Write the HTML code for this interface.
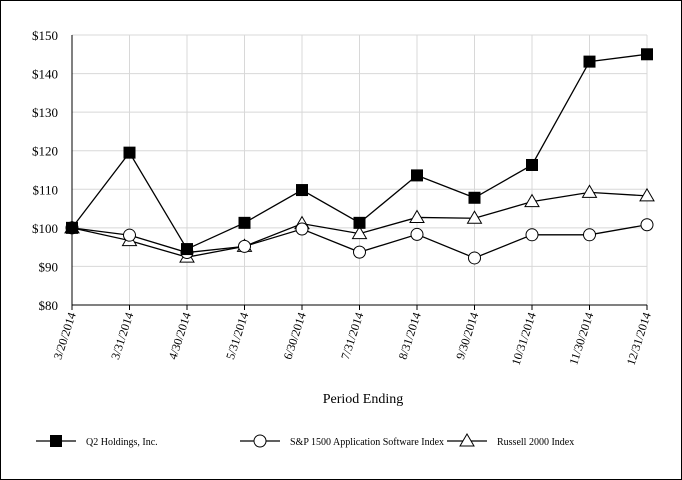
<!DOCTYPE html>
<html><head><meta charset="utf-8"><style>
html,body{margin:0;padding:0;background:#fff}
svg{display:block;font-family:"Liberation Serif",serif}
</style></head><body>
<svg id="c" width="682" height="480">
<rect x="0.5" y="0.5" width="681" height="479" fill="#fff" stroke="#000"/>
<g id="g"></g>
</svg>
<script>
const categories=["3/20/2014","3/31/2014","4/30/2014","5/31/2014","6/30/2014","7/31/2014","8/31/2014","9/30/2014","10/31/2014","11/30/2014","12/31/2014"];
const q2Values=[100,119.5,94.5,101.3,109.8,101.3,113.6,107.8,116.3,143.1,145.0];
const spValues=[100,98.1,93.6,95.2,99.7,93.7,98.3,92.2,98.2,98.2,100.8];
const russellValues=[100,96.7,92.4,95.2,101.1,98.5,102.7,102.5,106.8,109.2,108.3];
const yTicks=[80,90,100,110,120,130,140,150];
const seriesNames=["Q2 Holdings, Inc.","S&P 1500 Application Software Index","Russell 2000 Index"];

const NS="http://www.w3.org/2000/svg",g=document.getElementById('g');
const L=72,R=647,T=35,B=305;
const x=i=>L+i*(R-L)/(categories.length-1);
const y=v=>B-(v-80)*(B-T)/70;
function el(t,a,p){const e=document.createElementNS(NS,t);for(const k in a)e.setAttribute(k,a[k]);(p||g).appendChild(e);return e;}
yTicks.forEach(v=>{
 const l=el('line',{x1:L,x2:R,y1:y(v),y2:y(v),stroke:'#d8d8d8'});
 
 
 const t=el('text',{x:58,y:y(v)+5,'text-anchor':'end','font-size':13});
 t.textContent='$'+v;
 
 
});
categories.forEach((c,i)=>{
 const l=el('line',{x1:x(i),x2:x(i),y1:T,y2:B,stroke:'#d8d8d8'});
 
 
 const tk=el('line',{x1:x(i),x2:x(i),y1:B,y2:B+5,stroke:'#000'});
 
 
 const t=el('text',{x:x(i)+4,y:B+9,'text-anchor':'end','font-size':12,transform:`rotate(-72 ${x(i)+4} ${B+9})`});
 t.textContent=c;
 
 
});
const ax=el('path',{d:`M${L} ${T}V${B}H${R}`,fill:'none',stroke:'#000'});


const xt=el('text',{x:363,y:403,'text-anchor':'middle','font-size':14});
xt.textContent='Period Ending';



function marker(type,cx,cy,p){
 let m;
 if(type==0)m=el('rect',{x:cx-6,y:cy-6,width:12,height:12,fill:'#000'},p);
 else if(type==1)m=el('circle',{cx:cx,cy:cy,r:6,fill:'#fff',stroke:'#000'},p);
 else m=el('polygon',{points:`${cx},${cy-7} ${cx+7},${cy+5} ${cx-7},${cy+5}`,fill:'#fff',stroke:'#000'},p);
 return m;
}
const all=[q2Values,spValues,russellValues],names=['q2','sp1500','russell'];
[2,1,0].forEach(s=>{
 const grp=el('g',{});
 
 
 const ln=el('polyline',{points:all[s].map((v,i)=>x(i)+','+y(v)).join(' '),fill:'none',stroke:'#000','stroke-width':1.3},grp);
 
 
 all[s].forEach((v,i)=>{
  const m=marker(s,x(i),y(v),grp);
  
  
 });
});
const lx=[36,240,447];
seriesNames.forEach((n,s)=>{
 const lg=el('g',{});
 
 
 el('line',{x1:lx[s],x2:lx[s]+40,y1:441,y2:441,stroke:'#000','stroke-width':1.3},lg);
 marker(s,lx[s]+20,441,lg);
 const t=el('text',{x:lx[s]+50,y:445,'font-size':10},lg);
 t.textContent=n;
});
</script>
</body></html>
